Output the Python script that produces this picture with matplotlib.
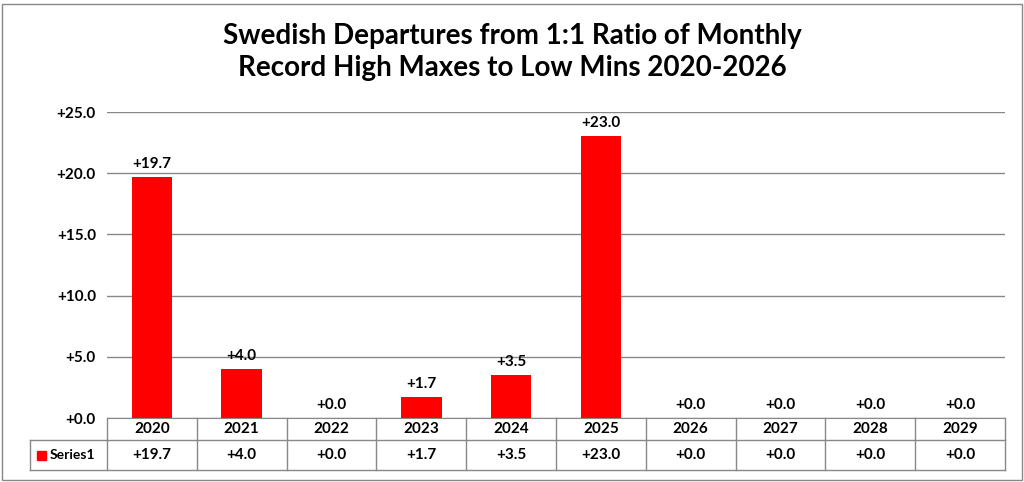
import matplotlib.pyplot as plt
from matplotlib.lines import Line2D
from matplotlib.patches import Rectangle

years = ['2020', '2021', '2022', '2023', '2024', '2025', '2026', '2027', '2028', '2029']
values = [19.7, 4.0, 0.0, 1.7, 3.5, 23.0, 0.0, 0.0, 0.0, 0.0]
series_name = 'Series1'
title = 'Swedish Departures from 1:1 Ratio of Monthly\nRecord High Maxes to Low Mins 2020-2026'

W, H = 1024, 482
plt.rcParams['font.family'] = ['Lato', 'DejaVu Sans']
fig = plt.figure(figsize=(W / 100, H / 100), dpi=100)

def fx(px):
    return px / W

def fy(py):
    return 1 - py / H

# outer border
fig.add_artist(Rectangle((fx(2), fy(480)), fx(1020), 476 / H, fill=False,
                         edgecolor='#888888', lw=1, transform=fig.transFigure))

left, right, top, bottom = 107, 1005, 112, 418
ax = fig.add_axes([fx(left), fy(bottom), fx(right - left), (bottom - top) / H])
x = list(range(len(years)))
ax.bar(x, values, width=0.45, color='#ff0000', zorder=3)
ax.set_xlim(-0.5, len(years) - 0.5)
ax.set_ylim(0, 25)
ax.set_yticks([0, 5, 10, 15, 20, 25])
ax.set_yticklabels([f'+{v:.1f}' for v in [0, 5, 10, 15, 20, 25]], fontsize=11, fontweight='bold')
ax.set_xticks([])
ax.grid(axis='y', color='#888888', lw=1, zorder=0)
for s in ['top', 'right', 'left']:
    ax.spines[s].set_visible(False)
ax.spines['bottom'].set_color('#888888')
ax.tick_params(axis='y', length=0, pad=8)
for xi, v in zip(x, values):
    ax.text(xi, v + 0.5, f'+{v:.1f}', ha='center', va='bottom', fontsize=11, fontweight='bold')

fig.text(0.5, fy(52), title, ha='center', va='center', fontsize=20, fontweight='bold',
         linespacing=1.3)

# data table
r0, r1, r2 = 418, 440, 470
cell = (right - left) / len(years)
lc = '#888888'
def line(x0, y0, x1, y1):
    fig.add_artist(Line2D([fx(x0), fx(x1)], [fy(y0), fy(y1)], color=lc, lw=1,
                          transform=fig.transFigure))
line(left, r1, right, r1)
line(30, r2, right, r2)
line(30, r1, left, r1)
line(30, r1, 30, r2)
for i in range(len(years) + 1):
    line(left + i * cell, r0, left + i * cell, r2)
for i, (yr, v) in enumerate(zip(years, values)):
    cx = left + (i + 0.5) * cell
    fig.text(fx(cx), fy((r0 + r1) / 2), yr, ha='center', va='center', fontsize=11, fontweight='bold')
    fig.text(fx(cx), fy((r1 + r2) / 2), f'+{v:.1f}', ha='center', va='center', fontsize=11, fontweight='bold')
fig.add_artist(Rectangle((fx(37), fy(460)), fx(9), 9 / H, color='#ff0000', transform=fig.transFigure))
fig.text(fx(50), fy((r1 + r2) / 2), series_name, ha='left', va='center', fontsize=10, fontweight='bold')

fig.savefig('out.png', dpi=100)
